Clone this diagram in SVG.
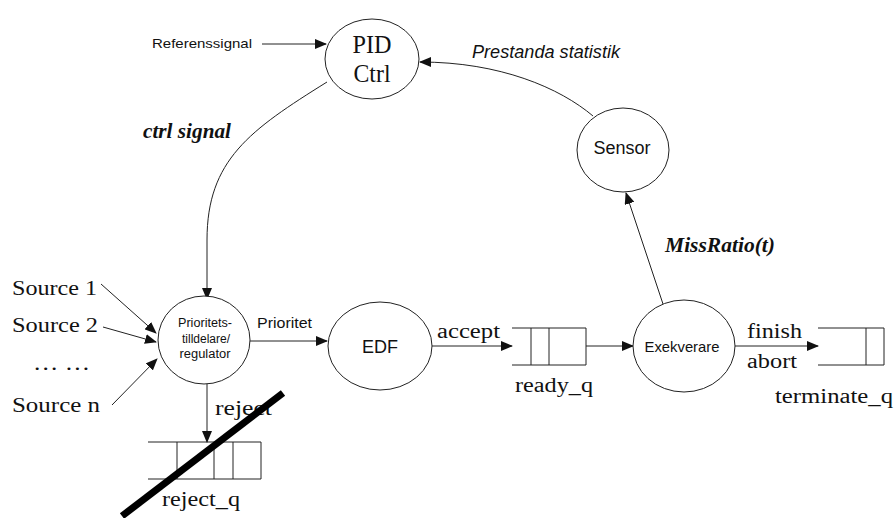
<svg xmlns="http://www.w3.org/2000/svg" width="896" height="518" viewBox="0 0 896 518">
<style>
.node{fill:#fff;stroke:#222;stroke-width:1}
.edge{fill:none;stroke:#222;stroke-width:1}
.q{fill:none;stroke:#222;stroke-width:1}
.sans{font-family:"Liberation Sans",Arial,sans-serif;fill:#111}
.serif{font-family:"Liberation Serif","Times New Roman",serif;fill:#111}
</style>
<defs>
<marker id="arr" markerWidth="12" markerHeight="10" refX="11" refY="5" orient="auto" markerUnits="userSpaceOnUse">
<path d="M0,0 L12,5 L0,10 Z" fill="#111"/>
</marker>
</defs>
<rect width="896" height="518" fill="#fff"/>
<g id="connectors">
<line class="edge" x1="262" y1="44" x2="326" y2="44" marker-end="url(#arr)"/>
<path class="edge" d="M593,116 C560,88 500,62 420,62" marker-end="url(#arr)"/>
<path class="edge" d="M327,82 C250,130 207,160 207,240 L207,299" marker-end="url(#arr)"/>
<line class="edge" x1="101" y1="284" x2="156" y2="333" marker-end="url(#arr)"/>
<line class="edge" x1="103" y1="327" x2="156" y2="342" marker-end="url(#arr)"/>
<line class="edge" x1="112" y1="405" x2="157" y2="359" marker-end="url(#arr)"/>
<line class="edge" x1="250" y1="341" x2="327" y2="341" marker-end="url(#arr)"/>
<line class="edge" x1="432" y1="346" x2="512" y2="346" marker-end="url(#arr)"/>
<line class="edge" x1="586" y1="346" x2="633" y2="346" marker-end="url(#arr)"/>
<line class="edge" x1="665" y1="310" x2="626" y2="193" marker-end="url(#arr)"/>
<line class="edge" x1="735" y1="346" x2="818" y2="346" marker-end="url(#arr)"/>
<line class="edge" x1="207" y1="384" x2="207" y2="442" marker-end="url(#arr)"/>
</g>
<g id="pid">
<ellipse class="node" cx="372" cy="59" rx="47" ry="40"/>
<text class="serif" x="372" y="53" font-size="25" text-anchor="middle" textLength="39" lengthAdjust="spacingAndGlyphs">PID</text>
<text class="serif" x="372" y="82" font-size="25" text-anchor="middle" textLength="37" lengthAdjust="spacingAndGlyphs">Ctrl</text>
</g>
<g id="sensor">
<ellipse class="node" cx="623" cy="150" rx="46" ry="42"/>
<text class="sans" x="622" y="154" font-size="18" text-anchor="middle" textLength="57" lengthAdjust="spacingAndGlyphs">Sensor</text>
</g>
<g id="prio">
<ellipse class="node" cx="204" cy="340" rx="46" ry="44"/>
<text class="sans" x="205" y="327" font-size="12" text-anchor="middle" textLength="54" lengthAdjust="spacingAndGlyphs">Prioritets-</text>
<text class="sans" x="206" y="343" font-size="12" text-anchor="middle" textLength="48" lengthAdjust="spacingAndGlyphs">tilldelare/</text>
<text class="sans" x="205" y="358" font-size="12" text-anchor="middle" textLength="51" lengthAdjust="spacingAndGlyphs">regulator</text>
</g>
<g id="edf">
<ellipse class="node" cx="380" cy="346" rx="52" ry="44"/>
<text class="sans" x="380" y="353" font-size="18" text-anchor="middle" textLength="36" lengthAdjust="spacingAndGlyphs">EDF</text>
</g>
<g id="exek">
<ellipse class="node" cx="684" cy="346" rx="51" ry="46"/>
<text class="sans" x="682" y="352" font-size="15" text-anchor="middle" textLength="75" lengthAdjust="spacingAndGlyphs">Exekverare</text>
</g>
<g id="ready_q">
<path class="q" d="M512,328 H586 V365 H512 M531,328 V365 M549,328 V365"/>
<text class="serif" x="515" y="392" font-size="20" textLength="78" lengthAdjust="spacingAndGlyphs">ready_q</text>
</g>
<g id="terminate_q">
<path class="q" d="M818,328 H884 V365 H818 M866,328 V365"/>
<text class="serif" x="775" y="403" font-size="20" textLength="118" lengthAdjust="spacingAndGlyphs">terminate_q</text>
</g>
<g id="reject_q">
<path class="q" d="M148,442 H261 V479 H148 M177,442 V479 M214,442 V479 M233,442 V479"/>
<text class="serif" x="162" y="506" font-size="20" textLength="78" lengthAdjust="spacingAndGlyphs">reject_q</text>
</g>
<g id="labels">
<text class="sans" x="152" y="48" font-size="13" textLength="100" lengthAdjust="spacingAndGlyphs">Referenssignal</text>
<text class="sans" x="472" y="58" font-size="18" font-style="italic" textLength="148" lengthAdjust="spacingAndGlyphs">Prestanda statistik</text>
<text class="serif" x="143" y="138" font-size="20" font-style="italic" font-weight="bold" textLength="88" lengthAdjust="spacingAndGlyphs">ctrl signal</text>
<text class="serif" x="665" y="252" font-size="20" font-style="italic" font-weight="bold" textLength="110" lengthAdjust="spacingAndGlyphs">MissRatio(t)</text>
<text class="serif" x="12" y="295" font-size="20" textLength="85" lengthAdjust="spacingAndGlyphs">Source 1</text>
<text class="serif" x="12" y="332" font-size="20" textLength="86" lengthAdjust="spacingAndGlyphs">Source 2</text>
<text class="serif" x="33" y="370" font-size="20" textLength="57" lengthAdjust="spacingAndGlyphs">… …</text>
<text class="serif" x="12" y="412" font-size="20" textLength="88" lengthAdjust="spacingAndGlyphs">Source n</text>
<text class="sans" x="257" y="328" font-size="14" textLength="55" lengthAdjust="spacingAndGlyphs">Prioritet</text>
<text class="serif" x="437" y="338" font-size="20" textLength="63" lengthAdjust="spacingAndGlyphs">accept</text>
<text class="serif" x="747" y="338" font-size="20" textLength="55" lengthAdjust="spacingAndGlyphs">finish</text>
<text class="serif" x="747" y="368" font-size="20" textLength="50" lengthAdjust="spacingAndGlyphs">abort</text>
<text class="serif" x="215" y="415" font-size="20" textLength="57" lengthAdjust="spacingAndGlyphs">reject</text>
</g>
<line x1="122" y1="516" x2="283" y2="393" stroke="#000" stroke-width="7"/>
</svg>
